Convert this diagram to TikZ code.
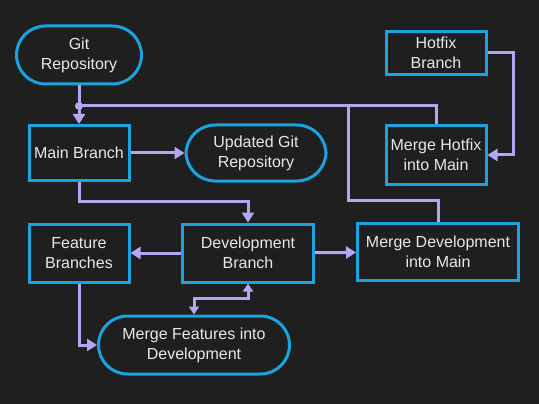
\documentclass[tikz,border=0pt]{standalone}
\usepackage{fontspec}
\setmainfont{Liberation Sans}
\usetikzlibrary{arrows.meta}
\definecolor{bgcol}{HTML}{1F1F1F}
\definecolor{edgecol}{HTML}{1BA3DF}
\definecolor{arrcol}{HTML}{B6A6F2}
\definecolor{txtcol}{HTML}{E8E8E8}

\begin{document}
\begin{tikzpicture}[x=1pt,y=-1pt,
    box/.style={draw=edgecol,line width=3pt,text=txtcol,align=center,inner sep=0pt,
      font=\fontsize{16}{20}\selectfont},
    term/.style={box,rounded corners=29pt},
    link/.style={draw=arrcol,line width=3pt},
    arr/.style={link,-{Triangle[length=10pt,width=12pt]}},
    arrboth/.style={link,{Triangle[length=8pt,width=10pt]}-{Triangle[length=8pt,width=10pt]}}]
    \fill[bgcol] (0,0) rectangle (539,404);
    % nodes
    \node[term,minimum width=125pt,minimum height=58pt] (git) at (79,55) {Git\\Repository};
    \node[box,minimum width=100pt,minimum height=55pt] (main) at (79,153) {Main Branch};
    \node[term,minimum width=140pt,minimum height=56pt] (upd) at (256,153) {Updated Git\\Repository};
    \node[box,minimum width=100pt,minimum height=43pt] (hotfix) at (436,53) {Hotfix\\Branch};
    \node[box,minimum width=100pt,minimum height=58pt] (mhot) at (436,155) {Merge Hotfix\\into Main};
    \node[box,minimum width=100pt,minimum height=58pt] (feat) at (79,253) {Feature\\Branches};
    \node[box,minimum width=131pt,minimum height=58pt] (dev) at (248,253) {Development\\Branch};
    \node[box,minimum width=161pt,minimum height=57pt] (mdev) at (438,252) {Merge Development\\into Main};
    \node[term,minimum width=191pt,minimum height=58pt] (mfeat) at (194,345) {Merge Features into\\Development};
    % joins
    \coordinate (jn) at (79,106);
    \coordinate (mdbend) at (348,200);
    \coordinate (mdjoin) at (348,106);
    % connectors
    \draw[arr] (git) -- (main);
    \draw[link] (mhot.north) |- (jn);
    \draw[link] (mdev.north) |- (mdbend) -- (mdjoin);
    \fill[arrcol] (jn) circle (4pt);
    \draw[arr] (main) -- (upd);
    \draw[arr] (hotfix.east) -- ++(26,0) |- (mhot.east);
    \draw[arr] (main.south) -- ++(0,19) -| (dev.north);
    \draw[arr] (dev) -- (feat);
    \draw[arr] (dev) -- (mdev);
    \draw[arr] (feat.south) |- (mfeat.west);
    \draw[arrboth] (mfeat.north) -- ++(0,-16) -| (dev.south);
\end{tikzpicture}
\end{document}
